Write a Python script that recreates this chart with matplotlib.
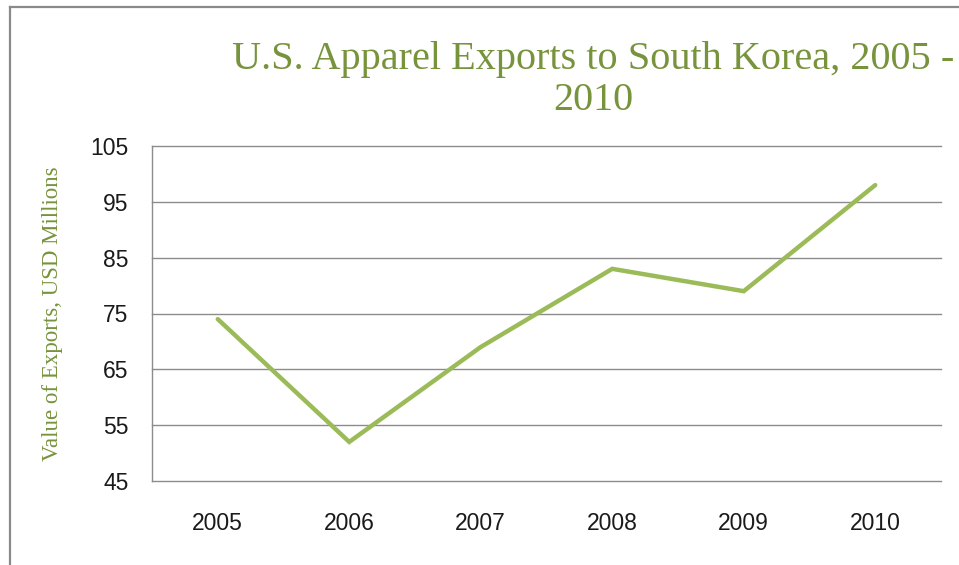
import numpy as np
import matplotlib.pyplot as plt
from matplotlib.lines import Line2D

# data
years = ['2005', '2006', '2007', '2008', '2009', '2010']
exports = [74, 52, 69, 83, 79, 98]   # USD millions
yticks = [45, 55, 65, 75, 85, 95, 105]

title_green = '#77933C'
line_green = '#9BBB59'
grid_grey = '#8C8C8C'

fig = plt.figure(figsize=(9.59, 5.65), dpi=100)
ax = fig.add_axes([152/959, 1-481/565, (941-152)/959, (481-146)/565])

x = np.arange(len(years))
ax.plot(x, exports, color=line_green, lw=3.2, solid_capstyle='round', solid_joinstyle='miter', zorder=3)

ax.set_xlim(-0.5, len(years)-0.5)
ax.set_ylim(yticks[0], yticks[-1])
ax.set_yticks(yticks)
ax.set_xticks(x)
ax.set_xticklabels(years)

for v in yticks:
    ax.axhline(v, color=grid_grey, lw=1.0, zorder=0, clip_on=False)

for s in ['top', 'right', 'bottom']:
    ax.spines[s].set_visible(False)
ax.spines['left'].set_color(grid_grey)
ax.spines['left'].set_linewidth(1.0)

ax.tick_params(axis='y', length=0, pad=17, labelsize=16.5, labelcolor='#1a1a1a')
ax.tick_params(axis='x', length=0, pad=22, labelsize=16.5, labelcolor='#1a1a1a')
for lab in ax.get_xticklabels() + ax.get_yticklabels():
    lab.set_family('Liberation Sans')

ax.set_ylabel('Value of Exports, USD Millions', family='Liberation Serif',
              fontsize=16.5, color=title_green)
ax.yaxis.set_label_coords((63-152)/(941-152), 0.5)

fig.text(593/959, 1-60/565, 'U.S. Apparel Exports to South Korea, 2005 -',
         ha='center', va='center', family='Liberation Serif', fontsize=29, color=title_green)
fig.text(593/959, 1-101/565, '2010',
         ha='center', va='center', family='Liberation Serif', fontsize=29, color=title_green)

# outer chart border (cropped at right and bottom)
fig.add_artist(Line2D([10/959, 10/959], [0, 1-7/565], color='#8a8a8a', lw=1.6))
fig.add_artist(Line2D([10/959, 1], [1-7/565, 1-7/565], color='#8a8a8a', lw=1.6))

fig.savefig('out.png', dpi=100)
